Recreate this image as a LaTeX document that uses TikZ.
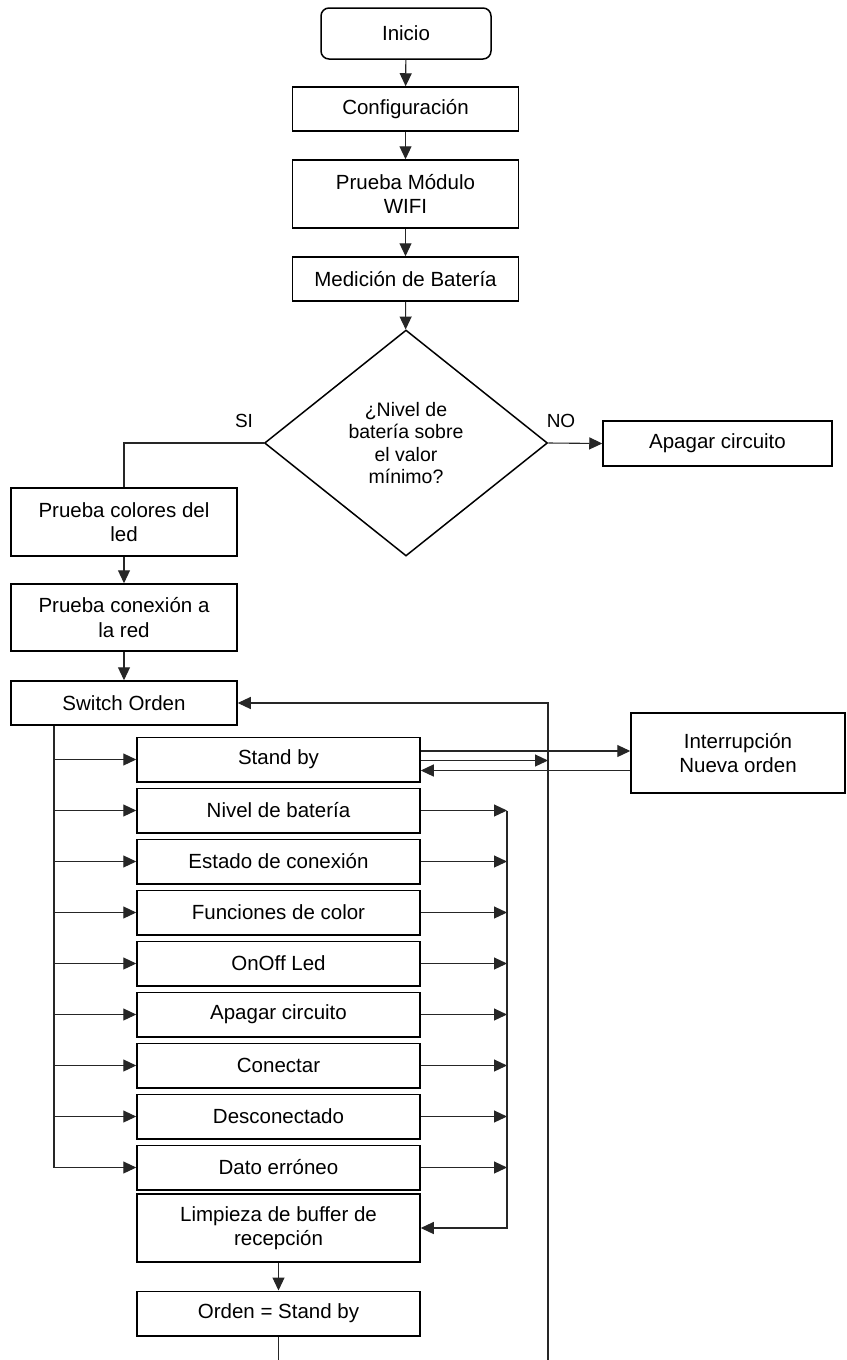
\documentclass[tikz,border=0pt]{standalone}
\usepackage{fontspec}
\setmainfont{Liberation Sans}
\usetikzlibrary{arrows.meta,shapes.geometric}
\begin{document}
\begin{tikzpicture}[x=1pt,y=-1pt,
  box/.style={draw=black, line width=1.5pt, inner sep=0pt, align=center, font=\fontsize{20.5}{24.5}\selectfont},
  sbox/.style={box, minimum width=283pt, minimum height=44.5pt},
  lbox/.style={box, minimum width=226pt},
  conn/.style={draw=black!85, line width=1.1pt},
  arr/.style={conn, -{Triangle[length=13pt,width=12pt]}},
  lbl/.style={inner sep=0pt, font=\fontsize{19}{22}\selectfont}]
\useasboundingbox (0,0) rectangle (846,1360);
\fill[white] (0,0) rectangle (846,1360);

% top column
\node[box, rounded corners=8pt, minimum width=170pt, minimum height=51pt] (ini) at (406,33.5) {Inicio};
\node[box, minimum width=226pt, minimum height=44pt] (conf) at (405.5,109) {Configuración};
\node[box, minimum width=226pt, minimum height=68pt] (wifi) at (405.5,194) {Prueba Módulo\\WIFI};
\node[box, minimum width=226pt, minimum height=44pt] (med) at (405.5,279) {Medición de Batería};
\node[draw=black, line width=1.5pt, shape=diamond, inner sep=0pt, minimum width=283pt, minimum height=226pt,
      align=center, font=\fontsize{19.5}{22.5}\selectfont] (dec) at (406,443) {¿Nivel de\\batería sobre\\el valor\\mínimo?};
\node[box, minimum width=229pt, minimum height=45pt] (apg) at (717.5,443.5) {Apagar circuito};
\node[lbl] (si) at (244,421) {SI};
\node[lbl] (no) at (561,421) {NO};

% left column
\node[lbox, minimum height=68pt] (led) at (124,522) {Prueba colores del\\led};
\node[lbox, minimum height=67pt] (red) at (124,617.5) {Prueba conexión a\\la red};
\node[lbox, minimum height=44pt] (sw) at (124,703) {Switch Orden};

% switch cases
\node[sbox] (sb) at (278.5,759.5) {Stand by};
\node[sbox] (niv) at (278.5,810.5) {Nivel de batería};
\node[sbox] (est) at (278.5,861.5) {Estado de conexión};
\node[sbox] (fun) at (278.5,912.5) {Funciones de color};
\node[sbox] (onf) at (278.5,963.5) {OnOff Led};
\node[sbox] (apc) at (278.5,1014.5) {Apagar circuito};
\node[sbox] (con) at (278.5,1065.5) {Conectar};
\node[sbox] (des) at (278.5,1116.5) {Desconectado};
\node[sbox] (dat) at (278.5,1167.5) {Dato erróneo};
\node[sbox, minimum height=68pt] (lim) at (278.5,1228) {Limpieza de buffer de\\recepción};
\node[sbox] (ord) at (278.5,1313.5) {Orden = Stand by};

\node[box, minimum width=214pt, minimum height=80pt] (intr) at (738,753) {Interrupción\\Nueva orden};

% helper coordinates
\coordinate (bx) at (54,0);
\coordinate (rb) at (507,0);
\coordinate (lp) at (548,0);
\coordinate (lpb) at (548,1360);

% main flow
\draw[arr] (ini) -- (conf);
\draw[arr] (conf) -- (wifi);
\draw[arr] (wifi) -- (med);
\draw[arr] (med) -- (dec);
\draw[arr] (dec.east) -- (apg.west);
\draw[conn] (dec.west) -| (led.north);
\draw[arr] (led) -- (red);
\draw[arr] (red) -- (sw);

% left bus
\draw[conn] (sw.south -| bx) -- (dat.west -| bx);
\foreach \n in {sb,niv,est,fun,onf,apc,con,des,dat}
  \draw[arr] (\n.west -| bx) -- (\n.west);

% right bus
\foreach \n in {niv,est,fun,onf,apc,con,des,dat}
  \draw[arr] (\n.east) -- (\n.east -| rb);
\draw[arr] (niv.east -| rb) |- (lim.east);
\draw[arr] (lim) -- (ord);
\draw[conn] (ord.south) -- (ord.south |- lpb);

% stand by / interruption
\draw[arr] ([yshift=8.5pt]sb.east) -- ([yshift=8.5pt]sb.east -| intr.west);
\draw[arr] ([yshift=-1pt]sb.east) -- ([yshift=-1pt]sb.east -| lp);
\draw[arr] ([yshift=-11pt]sb.east -| intr.west) -- ([yshift=-11pt]sb.east);

% loop back
\draw[arr] (lpb) |- (sw.east);
\end{tikzpicture}
\end{document}
